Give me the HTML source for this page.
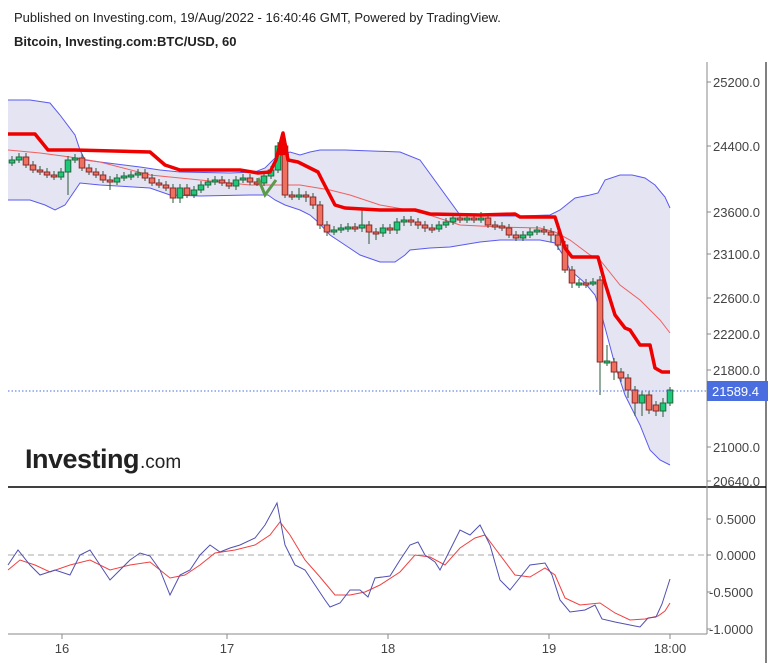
<!DOCTYPE html>
<html><head><meta charset="utf-8"><style>
body{margin:0;background:#fff;width:777px;height:663px;overflow:hidden;font-family:"Liberation Sans",sans-serif}
.w{stroke:#2a5a3a;stroke-width:1}
.g{fill:#1ec87a;stroke:#1f6a3a;stroke-width:1}
.r{fill:#f07060;stroke:#8a2a2a;stroke-width:1}
</style></head><body>
<svg width="777" height="663" xmlns="http://www.w3.org/2000/svg" font-family="Liberation Sans, sans-serif">
<text x="14" y="22" font-size="13" fill="#222">Published on Investing.com, 19/Aug/2022 - 16:40:46 GMT, Powered by TradingView.</text>
<text x="14" y="46" font-size="13" font-weight="bold" fill="#222">Bitcoin, Investing.com:BTC/USD, 60</text>
<polygon fill="#e4e4f2" points="8,100 30,100 50,103 60,115 75,135 80,150 85,160 100,162 140,167 160,170 180,172 230,173 255,172 265,168 275,158 290,152 300,155 310,152 320,150 345,150 400,152 420,160 460,215 480,216 520,216 550,215 560,210 575,198 590,195 598,193 605,180 620,175 632,175 645,178 655,185 665,197 670,208 670,465 660,460 650,450 640,425 625,395 615,365 603,320 595,295 585,283 570,270 563,255 555,243 540,240 500,240 480,242 450,247 430,248 410,250 405,255 395,262 380,262 360,255 345,245 330,235 318,222 310,215 300,210 285,205 275,200 268,195 250,195 200,196 170,195 150,188 100,185 80,183 65,205 55,210 45,205 30,200 8,200"/>
<polyline fill="none" stroke="#5a5af0" stroke-width="1" points="8,100 30,100 50,103 60,115 75,135 80,150 85,160 100,162 140,167 160,170 180,172 230,173 255,172 265,168 275,158 290,152 300,155 310,152 320,150 345,150 400,152 420,160 460,215 480,216 520,216 550,215 560,210 575,198 590,195 598,193 605,180 620,175 632,175 645,178 655,185 665,197 670,208"/>
<polyline fill="none" stroke="#5a5af0" stroke-width="1" points="8,200 30,200 45,205 55,210 65,205 80,183 100,185 150,188 170,195 200,196 250,195 268,195 275,200 285,205 300,210 310,215 318,222 330,235 345,245 360,255 380,262 395,262 405,255 410,250 430,248 450,247 480,242 500,240 540,240 555,243 563,255 570,270 585,283 595,295 603,320 615,365 625,395 640,425 650,450 660,460 670,465"/>
<polyline fill="none" stroke="#f06060" stroke-width="1" points="8,150 40,153 70,157 100,162 150,175 200,180 250,185 300,185 330,190 350,195 380,205 420,212 460,225 500,227 540,228 555,232 570,240 590,255 600,260 620,285 640,300 660,320 670,333"/>
<g>
<line class="w" x1="12" y1="156" x2="12" y2="166"/><rect class="g" x="9.2" y="160" width="5.6" height="3"/>
<line class="w" x1="19" y1="153" x2="19" y2="163"/><rect class="g" x="16.2" y="157" width="5.6" height="3"/>
<line class="w" x1="26" y1="153" x2="26" y2="168"/><rect class="r" x="23.2" y="157" width="5.6" height="8"/>
<line class="w" x1="33" y1="161" x2="33" y2="173"/><rect class="r" x="30.2" y="165" width="5.6" height="5"/>
<line class="w" x1="40" y1="166" x2="40" y2="175"/><rect class="r" x="37.2" y="170" width="5.6" height="2"/>
<line class="w" x1="47" y1="168" x2="47" y2="178"/><rect class="r" x="44.2" y="172" width="5.6" height="3"/>
<line class="w" x1="54" y1="171" x2="54" y2="180"/><rect class="r" x="51.2" y="175" width="5.6" height="2"/>
<line class="w" x1="61" y1="168" x2="61" y2="180"/><rect class="g" x="58.2" y="172" width="5.6" height="5"/>
<line class="w" x1="68" y1="156" x2="68" y2="195"/><rect class="g" x="65.2" y="160" width="5.6" height="12"/>
<line class="w" x1="75" y1="154" x2="75" y2="163"/><rect class="g" x="72.2" y="158" width="5.6" height="2"/>
<line class="w" x1="82" y1="154" x2="82" y2="171"/><rect class="r" x="79.2" y="158" width="5.6" height="10"/>
<line class="w" x1="89" y1="164" x2="89" y2="175"/><rect class="r" x="86.2" y="168" width="5.6" height="4"/>
<line class="w" x1="96" y1="168" x2="96" y2="178"/><rect class="r" x="93.2" y="172" width="5.6" height="3"/>
<line class="w" x1="103" y1="171" x2="103" y2="183"/><rect class="r" x="100.2" y="175" width="5.6" height="5"/>
<line class="w" x1="110" y1="176" x2="110" y2="190"/><rect class="r" x="107.2" y="180" width="5.6" height="2"/>
<line class="w" x1="117" y1="174" x2="117" y2="185"/><rect class="g" x="114.2" y="178" width="5.6" height="4"/>
<line class="w" x1="124" y1="172" x2="124" y2="181"/><rect class="g" x="121.2" y="176" width="5.6" height="2"/>
<line class="w" x1="131" y1="171" x2="131" y2="180"/><rect class="g" x="128.2" y="175" width="5.6" height="2"/>
<line class="w" x1="138" y1="169" x2="138" y2="178"/><rect class="g" x="135.2" y="173" width="5.6" height="2"/>
<line class="w" x1="145" y1="169" x2="145" y2="181"/><rect class="r" x="142.2" y="173" width="5.6" height="5"/>
<line class="w" x1="152" y1="174" x2="152" y2="186"/><rect class="r" x="149.2" y="178" width="5.6" height="5"/>
<line class="w" x1="159" y1="179" x2="159" y2="188"/><rect class="r" x="156.2" y="183" width="5.6" height="2"/>
<line class="w" x1="166" y1="181" x2="166" y2="191"/><rect class="r" x="163.2" y="185" width="5.6" height="3"/>
<line class="w" x1="173" y1="184" x2="173" y2="203"/><rect class="r" x="170.2" y="188" width="5.6" height="10"/>
<line class="w" x1="180" y1="184" x2="180" y2="203"/><rect class="g" x="177.2" y="188" width="5.6" height="10"/>
<line class="w" x1="187" y1="184" x2="187" y2="198"/><rect class="r" x="184.2" y="188" width="5.6" height="7"/>
<line class="w" x1="194" y1="186" x2="194" y2="198"/><rect class="g" x="191.2" y="190" width="5.6" height="5"/>
<line class="w" x1="201" y1="181" x2="201" y2="193"/><rect class="g" x="198.2" y="185" width="5.6" height="5"/>
<line class="w" x1="208" y1="178" x2="208" y2="188"/><rect class="g" x="205.2" y="182" width="5.6" height="3"/>
<line class="w" x1="215" y1="176" x2="215" y2="185"/><rect class="g" x="212.2" y="180" width="5.6" height="2"/>
<line class="w" x1="222" y1="176" x2="222" y2="186"/><rect class="r" x="219.2" y="180" width="5.6" height="3"/>
<line class="w" x1="229" y1="179" x2="229" y2="189"/><rect class="r" x="226.2" y="183" width="5.6" height="3"/>
<line class="w" x1="236" y1="176" x2="236" y2="190"/><rect class="g" x="233.2" y="180" width="5.6" height="6"/>
<line class="w" x1="243" y1="174" x2="243" y2="183"/><rect class="g" x="240.2" y="178" width="5.6" height="2"/>
<line class="w" x1="250" y1="174" x2="250" y2="185"/><rect class="r" x="247.2" y="178" width="5.6" height="4"/>
<line class="w" x1="257" y1="178" x2="257" y2="186"/><rect class="r" x="254.2" y="182" width="5.6" height="2"/>
<line class="w" x1="264" y1="172" x2="264" y2="186"/><rect class="g" x="261.2" y="176" width="5.6" height="7"/>
<line class="w" x1="271" y1="166" x2="271" y2="179"/><rect class="g" x="268.2" y="170" width="5.6" height="6"/>
<line class="w" x1="278" y1="142" x2="278" y2="173"/><rect class="g" x="275.2" y="146" width="5.6" height="24"/>
<line class="w" x1="285" y1="142" x2="285" y2="198"/><rect class="r" x="282.2" y="146" width="5.6" height="49"/>
<line class="w" x1="292" y1="191" x2="292" y2="200"/><rect class="r" x="289.2" y="195" width="5.6" height="2"/>
<line class="w" x1="299" y1="188" x2="299" y2="200"/><rect class="g" x="296.2" y="195" width="5.6" height="2"/>
<line class="w" x1="306" y1="191" x2="306" y2="202"/><rect class="r" x="303.2" y="195" width="5.6" height="2"/>
<line class="w" x1="313" y1="193" x2="313" y2="209"/><rect class="r" x="310.2" y="197" width="5.6" height="8"/>
<line class="w" x1="320" y1="201" x2="320" y2="229"/><rect class="r" x="317.2" y="205" width="5.6" height="20"/>
<line class="w" x1="327" y1="221" x2="327" y2="236"/><rect class="r" x="324.2" y="225" width="5.6" height="7"/>
<line class="w" x1="334" y1="226" x2="334" y2="235"/><rect class="g" x="331.2" y="230" width="5.6" height="2"/>
<line class="w" x1="341" y1="224" x2="341" y2="233"/><rect class="g" x="338.2" y="228" width="5.6" height="2"/>
<line class="w" x1="348" y1="223" x2="348" y2="232"/><rect class="g" x="345.2" y="227" width="5.6" height="2"/>
<line class="w" x1="355" y1="223" x2="355" y2="232"/><rect class="r" x="352.2" y="227" width="5.6" height="2"/>
<line class="w" x1="362" y1="210" x2="362" y2="232"/><rect class="g" x="359.2" y="225" width="5.6" height="3"/>
<line class="w" x1="369" y1="221" x2="369" y2="244"/><rect class="r" x="366.2" y="225" width="5.6" height="7"/>
<line class="w" x1="376" y1="228" x2="376" y2="240"/><rect class="r" x="373.2" y="232" width="5.6" height="2"/>
<line class="w" x1="383" y1="224" x2="383" y2="237"/><rect class="g" x="380.2" y="228" width="5.6" height="5"/>
<line class="w" x1="390" y1="224" x2="390" y2="234"/><rect class="r" x="387.2" y="228" width="5.6" height="2"/>
<line class="w" x1="397" y1="218" x2="397" y2="234"/><rect class="g" x="394.2" y="222" width="5.6" height="8"/>
<line class="w" x1="404" y1="216" x2="404" y2="226"/><rect class="g" x="401.2" y="220" width="5.6" height="2"/>
<line class="w" x1="411" y1="216" x2="411" y2="226"/><rect class="r" x="408.2" y="220" width="5.6" height="2"/>
<line class="w" x1="418" y1="218" x2="418" y2="229"/><rect class="r" x="415.2" y="222" width="5.6" height="3"/>
<line class="w" x1="425" y1="221" x2="425" y2="232"/><rect class="r" x="422.2" y="225" width="5.6" height="3"/>
<line class="w" x1="432" y1="224" x2="432" y2="233"/><rect class="r" x="429.2" y="228" width="5.6" height="2"/>
<line class="w" x1="439" y1="221" x2="439" y2="232"/><rect class="g" x="436.2" y="225" width="5.6" height="4"/>
<line class="w" x1="446" y1="218" x2="446" y2="228"/><rect class="g" x="443.2" y="222" width="5.6" height="3"/>
<line class="w" x1="453" y1="214" x2="453" y2="225"/><rect class="g" x="450.2" y="218" width="5.6" height="4"/>
<line class="w" x1="460" y1="214" x2="460" y2="223"/><rect class="r" x="457.2" y="218" width="5.6" height="2"/>
<line class="w" x1="467" y1="214" x2="467" y2="223"/><rect class="g" x="464.2" y="218" width="5.6" height="2"/>
<line class="w" x1="474" y1="214" x2="474" y2="223"/><rect class="r" x="471.2" y="218" width="5.6" height="2"/>
<line class="w" x1="481" y1="212" x2="481" y2="223"/><rect class="g" x="478.2" y="218" width="5.6" height="2"/>
<line class="w" x1="488" y1="214" x2="488" y2="228"/><rect class="r" x="485.2" y="218" width="5.6" height="7"/>
<line class="w" x1="495" y1="221" x2="495" y2="230"/><rect class="r" x="492.2" y="225" width="5.6" height="2"/>
<line class="w" x1="502" y1="222" x2="502" y2="231"/><rect class="r" x="499.2" y="226" width="5.6" height="2"/>
<line class="w" x1="509" y1="224" x2="509" y2="238"/><rect class="r" x="506.2" y="228" width="5.6" height="7"/>
<line class="w" x1="516" y1="231" x2="516" y2="241"/><rect class="r" x="513.2" y="235" width="5.6" height="3"/>
<line class="w" x1="523" y1="231" x2="523" y2="241"/><rect class="g" x="520.2" y="235" width="5.6" height="3"/>
<line class="w" x1="530" y1="228" x2="530" y2="238"/><rect class="g" x="527.2" y="232" width="5.6" height="3"/>
<line class="w" x1="537" y1="226" x2="537" y2="235"/><rect class="g" x="534.2" y="230" width="5.6" height="2"/>
<line class="w" x1="544" y1="226" x2="544" y2="235"/><rect class="r" x="541.2" y="230" width="5.6" height="2"/>
<line class="w" x1="551" y1="228" x2="551" y2="242"/><rect class="r" x="548.2" y="232" width="5.6" height="3"/>
<line class="w" x1="558" y1="231" x2="558" y2="250"/><rect class="r" x="555.2" y="235" width="5.6" height="10"/>
<line class="w" x1="565" y1="241" x2="565" y2="273"/><rect class="r" x="562.2" y="245" width="5.6" height="25"/>
<line class="w" x1="572" y1="266" x2="572" y2="288"/><rect class="r" x="569.2" y="270" width="5.6" height="13"/>
<line class="w" x1="579" y1="279" x2="579" y2="288"/><rect class="g" x="576.2" y="283" width="5.6" height="2"/>
<line class="w" x1="586" y1="279" x2="586" y2="288"/><rect class="r" x="583.2" y="283" width="5.6" height="2"/>
<line class="w" x1="593" y1="278" x2="593" y2="286"/><rect class="g" x="590.2" y="282" width="5.6" height="2"/>
<line class="w" x1="600" y1="276" x2="600" y2="395"/><rect class="r" x="597.2" y="280" width="5.6" height="82"/>
<line class="w" x1="607" y1="345" x2="607" y2="366"/><rect class="g" x="604.2" y="361" width="5.6" height="2"/>
<line class="w" x1="614" y1="358" x2="614" y2="380"/><rect class="r" x="611.2" y="362" width="5.6" height="10"/>
<line class="w" x1="621" y1="368" x2="621" y2="382"/><rect class="r" x="618.2" y="372" width="5.6" height="6"/>
<line class="w" x1="628" y1="374" x2="628" y2="398"/><rect class="r" x="625.2" y="378" width="5.6" height="12"/>
<line class="w" x1="635" y1="386" x2="635" y2="416"/><rect class="r" x="632.2" y="390" width="5.6" height="13"/>
<line class="w" x1="642" y1="391" x2="642" y2="416"/><rect class="g" x="639.2" y="395" width="5.6" height="8"/>
<line class="w" x1="649" y1="391" x2="649" y2="414"/><rect class="r" x="646.2" y="395" width="5.6" height="15"/>
<line class="w" x1="656" y1="401" x2="656" y2="416"/><rect class="r" x="653.2" y="405" width="5.6" height="6"/>
<line class="w" x1="663" y1="398" x2="663" y2="417"/><rect class="g" x="660.2" y="403" width="5.6" height="8"/>
<line class="w" x1="670" y1="387" x2="670" y2="406"/><rect class="g" x="667.2" y="390" width="5.6" height="13"/>
</g>
<polyline fill="none" stroke="#5a9a4a" stroke-width="3" points="258,178 265,195 276,180"/>
<polyline fill="none" stroke="#ee0000" stroke-width="3.5" stroke-linejoin="round" points="8,134 35,134 48,150 75,150 150,152 165,165 180,170 240,170 258,173 270,172 276,160 283,133 288,160 298,162 310,168 318,172 322,180 335,205 345,208 380,210 415,210 430,214 480,215 515,214 520,217 555,217 565,248 572,257 598,257 605,283 615,315 625,328 630,330 640,345 650,345 655,368 662,372 670,372"/>
<polygon fill="#ee0000" points="279,155 284,131 289,155"/>
<line x1="8" y1="391" x2="707" y2="391" stroke="#4a6ee0" stroke-dasharray="1.5,2" stroke-width="1"/>
<text x="25" y="468" font-size="27" font-weight="bold" fill="#222" letter-spacing="-0.5">Investing</text>
<text x="140" y="468" font-size="19" fill="#222">.com</text>
<line x1="8" y1="487" x2="766" y2="487" stroke="#000" stroke-width="1.5"/>
<line x1="766" y1="62" x2="766" y2="663" stroke="#000" stroke-width="1"/>
<line x1="707" y1="62" x2="707" y2="634" stroke="#888" stroke-width="1"/>
<line x1="8" y1="634" x2="707" y2="634" stroke="#888" stroke-width="1"/>
<g font-size="13" fill="#444" stroke="#888">
<line x1="707" y1="82" x2="711" y2="82"/><line x1="707" y1="146" x2="711" y2="146"/><line x1="707" y1="212" x2="711" y2="212"/><line x1="707" y1="254" x2="711" y2="254"/><line x1="707" y1="298" x2="711" y2="298"/><line x1="707" y1="334" x2="711" y2="334"/><line x1="707" y1="370" x2="711" y2="370"/><line x1="707" y1="447" x2="711" y2="447"/><line x1="707" y1="481" x2="711" y2="481"/>
<line x1="707" y1="519" x2="711" y2="519"/><line x1="707" y1="555" x2="711" y2="555"/><line x1="707" y1="592" x2="711" y2="592"/><line x1="707" y1="629" x2="711" y2="629"/>
<line x1="62" y1="634" x2="62" y2="639"/><line x1="227" y1="634" x2="227" y2="639"/><line x1="388" y1="634" x2="388" y2="639"/><line x1="549" y1="634" x2="549" y2="639"/><line x1="670" y1="634" x2="670" y2="639"/>
</g>
<g font-size="13" fill="#444">
<text x="713" y="87">25200.0</text><text x="713" y="151">24400.0</text><text x="713" y="217">23600.0</text><text x="713" y="259">23100.0</text><text x="713" y="303">22600.0</text><text x="713" y="339">22200.0</text><text x="713" y="375">21800.0</text><text x="713" y="452">21000.0</text><text x="713" y="486">20640.0</text>
<text x="716" y="524">0.5000</text><text x="716" y="560">0.0000</text><text x="709" y="597">-0.5000</text><text x="709" y="634">-1.0000</text>
<text x="62" y="653" text-anchor="middle">16</text><text x="227" y="653" text-anchor="middle">17</text><text x="388" y="653" text-anchor="middle">18</text><text x="549" y="653" text-anchor="middle">19</text><text x="670" y="653" text-anchor="middle">18:00</text>
</g>
<rect x="707" y="381" width="61" height="20" fill="#4a6ee0"/>
<text x="712" y="396" font-size="13" fill="#fff">21589.4</text>
<line x1="8" y1="555" x2="707" y2="555" stroke="#aaa" stroke-dasharray="6,4"/>
<polyline fill="none" stroke="#f04040" stroke-width="1" points="8,570 20,560 35,565 50,572 70,565 90,560 110,570 130,565 150,562 170,578 185,575 200,565 215,553 235,550 255,545 270,535 280,522 290,535 305,560 320,577 335,595 350,595 365,592 380,585 400,572 415,555 430,557 445,565 460,548 475,538 485,535 500,555 515,575 530,577 545,568 555,575 565,598 580,605 600,603 615,613 630,620 645,619 658,616 665,611 670,603"/>
<polyline fill="none" stroke="#5050b0" stroke-width="1" points="8,565 18,550 30,565 40,575 55,570 70,575 80,555 90,550 100,565 110,580 120,570 130,560 140,553 150,556 160,570 170,595 180,575 190,570 200,555 210,545 220,552 230,548 240,545 255,538 265,525 277,503 285,545 295,565 305,570 315,585 325,600 330,607 340,603 350,590 360,590 368,597 375,578 390,576 400,560 410,545 418,542 425,555 435,562 440,570 450,550 460,530 470,535 480,525 490,545 500,580 510,590 518,580 530,565 545,563 552,575 560,600 570,612 585,610 595,605 602,619 615,622 630,625 640,627 648,618 656,617 662,604 670,579"/>
</svg>
</body></html>
